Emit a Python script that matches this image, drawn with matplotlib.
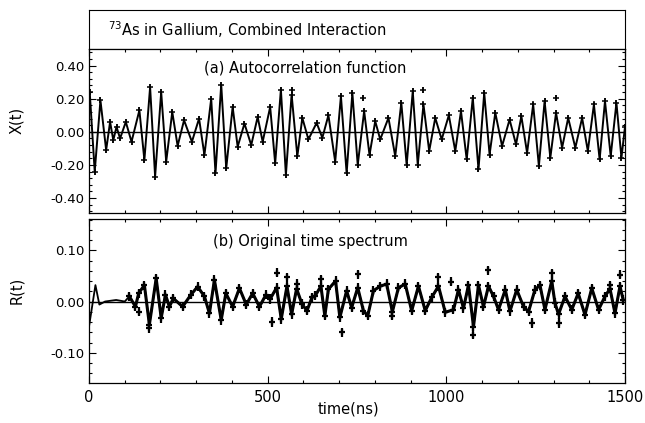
import matplotlib
matplotlib.use("Agg")
import matplotlib.pyplot as plt
from matplotlib.ticker import MultipleLocator, FormatStrFormatter

# (a) autocorrelation function: peaks and troughs of the fitted curve
acf_t = [2, 16, 32, 48, 59, 68, 77, 87, 103, 119, 141, 155, 171, 185, 202, 216,
         233, 248, 266, 288, 308, 323, 342, 354, 370, 384, 402, 416, 435, 454,
         472, 486, 507, 521, 537, 551, 567, 583, 597, 614, 637, 653, 670, 689,
         705, 721, 737, 752, 770, 785, 801, 815, 838, 857, 874, 889, 906, 920,
         936, 952, 969, 987, 1007, 1025, 1041, 1057, 1074, 1090, 1106, 1121,
         1137, 1156, 1177, 1195, 1210, 1226, 1243, 1259, 1275, 1291, 1307, 1324,
         1341, 1361, 1380, 1396, 1413, 1429, 1444, 1460, 1476, 1490, 1500]
acf_x = [0.24, -0.24, 0.19, -0.11, 0.06, -0.05, 0.03, -0.04, 0.06, -0.06, 0.13,
         -0.17, 0.27, -0.27, 0.24, -0.18, 0.12, -0.085, 0.07, -0.06, 0.08, -0.14,
         0.20, -0.25, 0.285, -0.22, 0.15, -0.09, 0.05, -0.08, 0.09, -0.06, 0.15,
         -0.19, 0.255, -0.26, 0.225, -0.147, 0.084, -0.046, 0.054, -0.036, 0.10,
         -0.18, 0.215, -0.25, 0.235, -0.20, 0.125, -0.14, 0.064, -0.046, 0.084,
         -0.147, 0.175, -0.20, 0.245, -0.20, 0.165, -0.116, 0.084, -0.046, 0.10,
         -0.116, 0.125, -0.167, 0.205, -0.227, 0.235, -0.137, 0.115, -0.086,
         0.074, -0.076, 0.094, -0.127, 0.165, -0.207, 0.185, -0.157, 0.115,
         -0.096, 0.084, -0.096, 0.084, -0.116, 0.165, -0.167, 0.185, -0.147,
         0.175, -0.157, 0.03]
# data points lying off the curve
acf_out_t = [567, 768, 936, 1306]
acf_out_x = [0.25, 0.205, 0.25, 0.205]

# (b) original time spectrum: fitted curve
fit_t = [0, 18, 29, 45, 76, 100, 113, 130, 139, 155, 169, 188, 202, 214, 225,
         236, 262, 285, 304, 323, 337, 351, 370, 383, 402, 421, 440, 458, 477,
         495, 507, 525, 538, 554, 567, 581, 596, 610, 624, 633, 649, 660, 670,
         690, 702, 721, 735, 752, 768, 780, 796, 815, 833, 849, 866, 885, 903,
         922, 941, 959, 978, 997, 1020, 1034, 1048, 1062, 1076, 1090, 1104,
         1118, 1132, 1146, 1165, 1178, 1197, 1216, 1230, 1248, 1262, 1276,
         1295, 1304, 1314, 1332, 1351, 1369, 1388, 1407, 1426, 1444, 1458,
         1472, 1486, 1495]
fit_r = [-0.049, 0.032, -0.006, 0.0, 0.003, 0.0, 0.01, -0.01, 0.016, 0.032,
         -0.045, 0.045, -0.032, 0.013, -0.01, 0.006, -0.01, 0.013, 0.029, 0.01,
         -0.023, 0.042, -0.036, 0.016, -0.01, 0.026, -0.006, 0.016, -0.01,
         0.013, 0.005, 0.027, -0.034, 0.03, -0.025, 0.025, -0.005, -0.018,
         0.008, 0.011, 0.03, -0.028, 0.024, 0.04, -0.031, 0.021, -0.012, 0.027,
         -0.018, -0.028, 0.021, 0.03, 0.034, -0.02, 0.027, 0.034, -0.018, 0.03,
         -0.018, 0.008, 0.03, -0.021, -0.016, 0.023, -0.013, 0.032, -0.049,
         0.032, -0.01, 0.03, 0.01, -0.016, 0.023, -0.019, 0.023, -0.01, -0.02,
         0.023, 0.032, -0.016, 0.04, -0.003, -0.025, 0.01, -0.016, 0.016,
         -0.026, 0.026, -0.016, 0.01, 0.025, -0.023, 0.03, 0.003]
# measured points (from ~104 ns on) that stand away from the curve
spec_out_t = [139, 169, 511, 525, 554, 581, 649, 709, 752, 849, 978, 1013,
              1076, 1118, 1239, 1295, 1314, 1458, 1486]
spec_out_r = [-0.02, -0.052, -0.04, 0.056, 0.047, 0.034, 0.043, -0.06, 0.053,
              -0.028, 0.047, 0.039, -0.065, 0.061, -0.042, 0.055, -0.042,
              0.032, 0.052]

title = "$^{73}$As in Gallium, Combined Interaction"

W, H = 645, 423
fig = plt.figure(figsize=(W / 100, H / 100), dpi=100)
plt.rcParams["font.family"] = "DejaVu Sans"
FS = 10.5


def frac(x0, y0, x1, y1):
    return [x0 / W, 1 - y1 / H, (x1 - x0) / W, (y1 - y0) / H]


def style_axes(ax):
    ax.tick_params(which="both", direction="in", top=True, right=True,
                   labelsize=9.5, width=0.8)
    ax.tick_params(which="major", length=5)
    ax.tick_params(which="minor", length=2.5)
    ax.xaxis.set_major_locator(MultipleLocator(500))
    ax.xaxis.set_minor_locator(MultipleLocator(100))
    ax.set_xlim(0, 1500)
    for s in ax.spines.values():
        s.set_linewidth(0.9)
    ax.axhline(0, color="black", lw=1.0, zorder=1)


ax_t = fig.add_axes(frac(89, 10, 625, 49))
ax_t.set_xticks([])
ax_t.set_yticks([])
ax_t.text(0.035, 0.5, title, transform=ax_t.transAxes, fontsize=FS,
          va="center", ha="left")

ax_a = fig.add_axes(frac(89, 49, 625, 213))
style_axes(ax_a)
ax_a.set_ylim(-0.49, 0.50)
ax_a.yaxis.set_major_locator(MultipleLocator(0.2))
ax_a.yaxis.set_minor_locator(MultipleLocator(0.04))
ax_a.yaxis.set_major_formatter(FormatStrFormatter("%.2f"))
ax_a.tick_params(labelbottom=False)
ax_a.plot(acf_t, acf_x, color="black", lw=1.4, zorder=2)
ax_a.errorbar(acf_t, acf_x, yerr=0.018, fmt="+", color="black", ms=4,
              mew=1.1, elinewidth=1.1, capsize=0, zorder=3)
ax_a.errorbar(acf_out_t, acf_out_x, yerr=0.018, fmt="+", color="black", ms=4,
              mew=1.1, elinewidth=1.1, capsize=0, zorder=3)
ax_a.text(0.215, 0.855, "(a) Autocorrelation function", transform=ax_a.transAxes,
          fontsize=FS)

ax_b = fig.add_axes(frac(89, 219, 625, 383))
style_axes(ax_b)
ax_b.set_ylim(-0.159, 0.161)
ax_b.yaxis.set_major_locator(MultipleLocator(0.1))
ax_b.yaxis.set_minor_locator(MultipleLocator(0.02))
ax_b.yaxis.set_major_formatter(FormatStrFormatter("%.2f"))
ax_b.plot(fit_t, fit_r, color="black", lw=1.3, zorder=2)
ax_b.plot(fit_t[6:], fit_r[6:], color="black", lw=2.2, zorder=2)
ax_b.errorbar(fit_t[6:], fit_r[6:], yerr=0.009, fmt="+", color="black", ms=4.5,
              mew=1.6, elinewidth=1.6, capsize=0, zorder=3)
ax_b.errorbar(spec_out_t, spec_out_r, yerr=0.009, fmt="+", color="black", ms=4.5,
              mew=1.6, elinewidth=1.6, capsize=0, zorder=3)
ax_b.text(0.232, 0.835, "(b) Original time spectrum", transform=ax_b.transAxes,
          fontsize=FS)
ax_b.tick_params(axis="x", pad=5)
ax_b.set_xticks([0, 500, 1000, 1500])
ax_b.set_xticklabels(["0", "500", "1000", "1500"], fontsize=10.5)

fig.text(17 / W, 1 - 120 / H, "X(t)", rotation=90, ha="center", va="center",
         fontsize=FS)
fig.text(17 / W, 1 - 290 / H, "R(t)", rotation=90, ha="center", va="center",
         fontsize=FS)
fig.text(348 / W, 1 - 409 / H, "time(ns)", ha="center", va="center",
         fontsize=FS)

fig.savefig("out.png", dpi=100)
